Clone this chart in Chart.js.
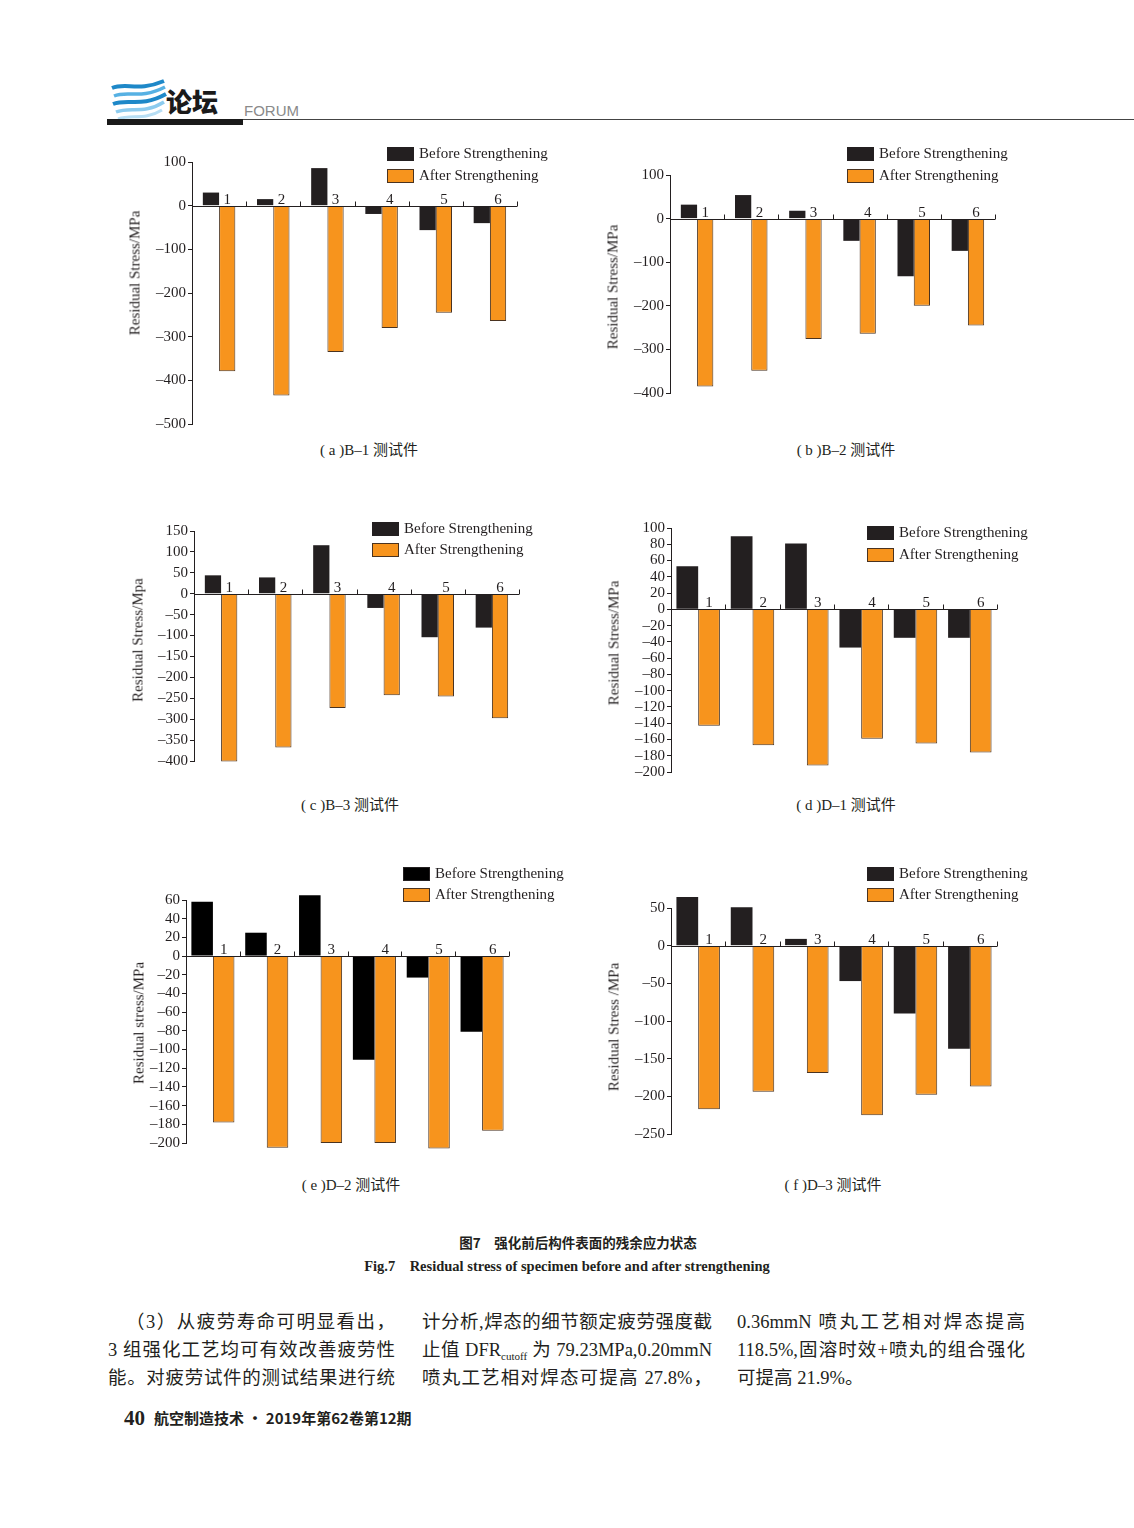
<!DOCTYPE html>
<html>
<head>
<meta charset="utf-8">
<script src="https://cdn.jsdelivr.net/npm/chart.js@4.4.1/dist/chart.umd.min.js"></script>
<style>
  html, body { margin: 0; padding: 0; background: #fff; }
  #page { position: relative; width: 1134px; height: 1528px; overflow: hidden; color: #231f20;
          font-family: "Liberation Serif", "Noto Sans CJK SC", serif; }
  .abs { position: absolute; white-space: nowrap; }
  canvas { position: absolute; }
  .ytitle { position: absolute; font-size: 15px; white-space: nowrap; transform: translate(-50%, -50%) rotate(-90deg); }
  .cap { position: absolute; font-size: 15px; white-space: nowrap; transform: translate(-50%, -50%); }
  .legbox { position: absolute; width: 25px; height: 12px; border: 1px solid #231f20; }
  .legtxt { position: absolute; font-size: 15px; line-height: 15px; white-space: nowrap; }
  .body { position: absolute; font-size: 18.5px; line-height: 20px; white-space: nowrap;
          text-align: justify; text-align-last: justify; }
  .body sub { font-size: 11px; vertical-align: -4px; line-height: 0; }
</style>
</head>
<body>
<div id="page">
  <!-- header -->
  <svg class="abs" style="left:108px;top:78px" width="62" height="44" viewBox="0 0 62 44">
    <path d="M4 10 C18 4, 30 14, 56 3" stroke="#1e88c8" stroke-width="4" fill="none"/>
    <path d="M6 18 C20 12, 32 22, 57 9" stroke="#57b1e3" stroke-width="3.5" fill="none"/>
    <path d="M5 26 C20 20, 33 30, 58 16" stroke="#1e88c8" stroke-width="4" fill="none"/>
    <path d="M8 34 C22 28, 35 37, 56 24" stroke="#8ccbee" stroke-width="3.5" fill="none"/>
    <path d="M10 41 C24 36, 36 43, 54 32" stroke="#b7def4" stroke-width="3" fill="none"/>
  </svg>
  <div class="abs" style="left:166px;top:86px;font-family:'Noto Sans CJK SC';font-weight:900;font-size:26px;line-height:30px;color:#1a1a1a">论坛</div>
  <div class="abs" style="left:244px;top:103px;font-family:'Liberation Sans';font-size:15px;line-height:16px;color:#8a8a8a">FORUM</div>
  <div class="abs" style="left:107px;top:119px;width:136px;height:6px;background:#1a1a1a"></div>
  <div class="abs" style="left:243px;top:119px;width:891px;height:1px;background:#444"></div>

  <!-- figure caption -->
  <div class="cap" style="left:578px;top:1242px;font-family:'Noto Sans CJK SC';font-weight:700;font-size:13.5px">图7　强化前后构件表面的残余应力状态</div>
  <div class="cap" style="left:567px;top:1264px;font-weight:700;font-size:14.5px">Fig.7　Residual stress of specimen before and after strengthening</div>

  <!-- body text -->
  <div class="body" style="left:126px;top:1312px;width:269px">（3）从疲劳寿命可明显看出，</div>
  <div class="body" style="left:108px;top:1340px;width:287px">3 组强化工艺均可有效改善疲劳性</div>
  <div class="body" style="left:108px;top:1368px;width:287px">能。对疲劳试件的测试结果进行统</div>
  <div class="body" style="left:422px;top:1312px;width:290px">计分析,焊态的细节额定疲劳强度截</div>
  <div class="body" style="left:422px;top:1340px;width:290px">止值 DFR<sub>cutoff</sub> 为 79.23MPa,0.20mmN</div>
  <div class="body" style="left:422px;top:1368px;width:290px">喷丸工艺相对焊态可提高 27.8%，</div>
  <div class="body" style="left:737px;top:1312px;width:288px">0.36mmN 喷丸工艺相对焊态提高</div>
  <div class="body" style="left:737px;top:1340px;width:288px">118.5%,固溶时效+喷丸的组合强化</div>
  <div class="body" style="left:737px;top:1368px;text-align-last:left">可提高 21.9%。</div>

  <!-- footer -->
  <div class="abs" style="left:124px;top:1406px;font-weight:700;font-size:21px;line-height:24px">40</div>
  <div class="abs" style="left:154px;top:1409px;font-family:'Noto Sans CJK SC';font-weight:700;font-size:15px;line-height:18px">航空制造技术 · 2019年第62卷第12期</div>
</div>

<script>
// specimens and series
const specimens = ['1', '2', '3', '4', '5', '6'];
const seriesNames = ['Before Strengthening', 'After Strengthening'];

// residual stress readings, MPa
const b1Before = [30, 15, 86, -19, -56, -40];
const b1After  = [-379, -435, -335, -280, -245, -264];
const b2Before = [32, 54, 18, -51, -132, -74];
const b2After  = [-385, -349, -276, -264, -200, -245];
const b3Before = [44, 39, 116, -34, -104, -81];
const b3After  = [-401, -368, -273, -243, -246, -298];
const d1Before = [53, 90, 81, -47, -35, -35];
const d1After  = [-143, -167, -192, -159, -165, -176];
const d2Before = [58, 25, 65, -111, -23, -81];
const d2After  = [-178, -205, -200, -200, -206, -187];
const d3Before = [72, 51, 9, -47, -90, -137];
const d3After  = [-217, -194, -169, -225, -198, -187];

// y axis ticks: [min, max, step]
const b1Ticks = [-500, 100, 100];
const b2Ticks = [-400, 100, 100];
const b3Ticks = [-400, 150, 50];
const d1Ticks = [-200, 100, 20];
const d2Ticks = [-200, 60, 20];
const d3Ticks = [-250, 50, 50];

const INK = '#231f20';
const ORANGE = '#f7941d';
Chart.defaults.font.family = '"Liberation Serif", serif';
Chart.defaults.color = INK;

// panel placement on the page
const panels = [
  { before: b1Before, after: b1After, ticks: b1Ticks, cat: 0.6, axisX: 192, top: 160.5, bottom: 424, right: 517,
    title: 'Residual Stress/MPa', tx: 135, ty: 273, lx: 387, ly: 147, caption: '( a )B–1 测试件', cx: 369, cy: 448 },
  { before: b2Before, after: b2After, ticks: b2Ticks, cat: 0.6, axisX: 669.5, top: 173.7, bottom: 394, right: 994,
    title: 'Residual Stress/MPa', tx: 613, ty: 287, lx: 847, ly: 147, caption: '( b )B–2 测试件', cx: 846, cy: 448 },
  { before: b3Before, after: b3After, ticks: b3Ticks, cat: 0.6, axisX: 194, top: 530.3, bottom: 762.3, right: 519,
    title: 'Residual Stress/Mpa', tx: 138, ty: 640, lx: 372, ly: 521.5, caption: '( c )B–3 测试件', cx: 350, cy: 803 },
  { before: d1Before, after: d1After, ticks: d1Ticks, cat: 0.8, axisX: 671, top: 527, bottom: 772.7, right: 996.7,
    title: 'Residual Stress/MPa', tx: 614, ty: 643, lx: 867, ly: 526, caption: '( d )D–1 测试件', cx: 846, cy: 803 },
  { before: d2Before, after: d2After, ticks: d2Ticks, cat: 0.8, axisX: 186, top: 899, bottom: 1144.3, right: 509,
    title: 'Residual stress/MPa', tx: 139, ty: 1023, lx: 403, ly: 866.5, caption: '( e )D–2 测试件', cx: 351, cy: 1183, black: '#000' },
  { before: d3Before, after: d3After, ticks: d3Ticks, cat: 0.8, axisX: 671, top: 907, bottom: 1135.3, right: 996.7,
    title: 'Residual Stress /MPa', tx: 614, ty: 1027, lx: 867, ly: 866.5, caption: '( f )D–3 测试件', cx: 833, cy: 1183 }
];

// x axis drawn through the zero line, ticks pointing up, labels over the orange bars
const zeroAxis = {
  id: 'zeroAxis',
  afterDatasetsDraw(chart) {
    const { ctx, chartArea, scales: { x, y } } = chart;
    const y0 = Math.round(y.getPixelForValue(0)) + 0.5;
    const half = (x.getPixelForValue(1) - x.getPixelForValue(0)) / 2;
    ctx.save();
    ctx.strokeStyle = INK;
    ctx.lineWidth = 1;
    ctx.beginPath();
    ctx.moveTo(chartArea.left, y0);
    ctx.lineTo(chartArea.right, y0);
    specimens.forEach((s, i) => {
      const tx = Math.round(x.getPixelForValue(i) + half) + 0.5;
      ctx.moveTo(tx, y0);
      ctx.lineTo(tx, y0 - 5);
    });
    ctx.stroke();
    ctx.fillStyle = INK;
    ctx.font = '15px "Liberation Serif"';
    ctx.textAlign = 'center';
    ctx.textBaseline = 'alphabetic';
    const bars = chart.getDatasetMeta(1).data;
    specimens.forEach((s, i) => ctx.fillText(s, bars[i].x, y0 - 2.5));
    ctx.restore();
  }
};

const AXIS_W = 60;
const page = document.getElementById('page');

panels.forEach(p => {
  const cv = document.createElement('canvas');
  const w = Math.round(AXIS_W + (p.right - p.axisX) + 4);
  const h = Math.round(p.bottom - p.top + 20);
  cv.width = w; cv.height = h;
  cv.style.width = w + 'px'; cv.style.height = h + 'px';
  cv.style.left = (p.axisX - AXIS_W) + 'px';
  cv.style.top = (p.top - 10) + 'px';
  page.appendChild(cv);

  new Chart(cv.getContext('2d'), {
    type: 'bar',
    data: {
      labels: specimens,
      datasets: [
        { label: seriesNames[0], data: p.before, backgroundColor: p.black || INK, borderWidth: 0, clip: false },
        { label: seriesNames[1], data: p.after, backgroundColor: ORANGE, borderColor: '#4a3320', borderWidth: 1, clip: false }
      ]
    },
    options: {
      responsive: false,
      animation: false,
      categoryPercentage: p.cat,
      barPercentage: 1.0,
      layout: { padding: { top: 10, bottom: 10, left: 0, right: 4 } },
      plugins: { legend: { display: false }, tooltip: { enabled: false } },
      scales: {
        x: { display: false },
        y: {
          min: p.ticks[0],
          max: p.ticks[1],
          afterFit(scale) { scale.width = AXIS_W; },
          ticks: {
            stepSize: p.ticks[2],
            autoSkip: false,
            padding: 2,
            font: { size: 15 },
            color: INK,
            callback: v => String(v).replace('-', '–')
          },
          grid: { drawOnChartArea: false, drawTicks: true, tickLength: 4, color: INK },
          border: { color: INK, width: 1 }
        }
      }
    },
    plugins: [zeroAxis]
  });

  // axis title, legend and caption as page text
  const t = document.createElement('div');
  t.className = 'ytitle';
  t.style.left = p.tx + 'px'; t.style.top = p.ty + 'px';
  t.textContent = p.title;
  page.appendChild(t);

  [p.black || INK, ORANGE].forEach((c, i) => {
    const box = document.createElement('div');
    box.className = 'legbox';
    box.style.left = p.lx + 'px';
    box.style.top = (p.ly + i * 21.5) + 'px';
    box.style.background = c;
    if (i === 1) box.style.borderColor = '#4a3320';
    page.appendChild(box);
    const txt = document.createElement('div');
    txt.className = 'legtxt';
    txt.style.left = (p.lx + 32) + 'px';
    txt.style.top = (p.ly + i * 21.5 - 1) + 'px';
    txt.textContent = seriesNames[i];
    page.appendChild(txt);
  });

  const cap = document.createElement('div');
  cap.className = 'cap';
  cap.style.left = p.cx + 'px'; cap.style.top = p.cy + 'px';
  cap.textContent = p.caption;
  page.appendChild(cap);
});
</script>
</body>
</html>
